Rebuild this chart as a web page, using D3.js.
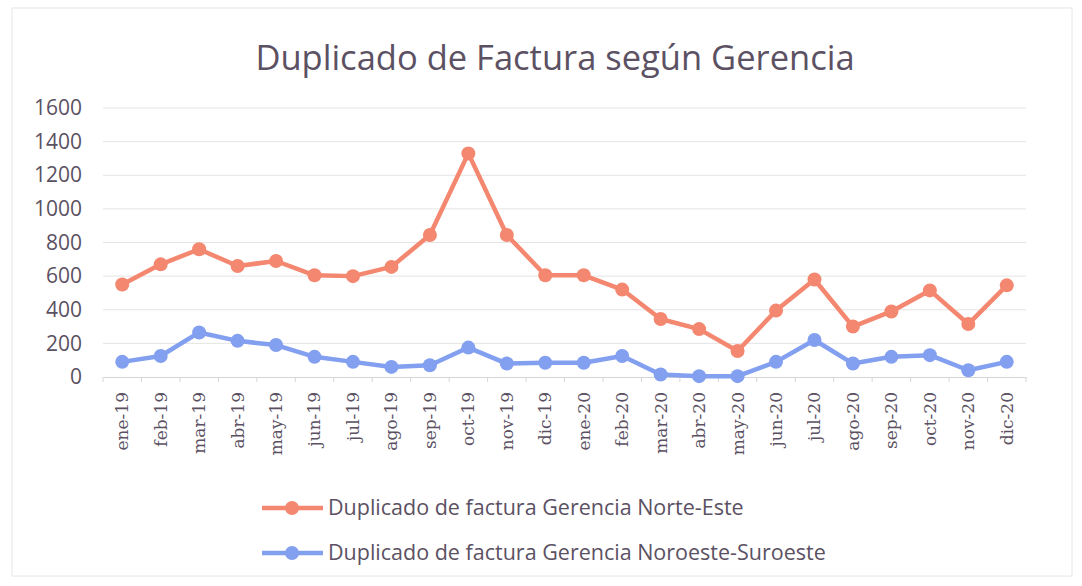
<!DOCTYPE html>
<html>
<head>
<meta charset="utf-8">
<script src="https://cdn.jsdelivr.net/npm/d3@7"></script>
<style>
  body { margin: 0; background: #fff; }
  svg { display: block; }
</style>
</head>
<body>
<svg id="chart"></svg>
<script>
// data
var months = ["ene-19","feb-19","mar-19","abr-19","may-19","jun-19","jul-19","ago-19","sep-19","oct-19","nov-19","dic-19",
              "ene-20","feb-20","mar-20","abr-20","may-20","jun-20","jul-20","ago-20","sep-20","oct-20","nov-20","dic-20"];
var norteEste = [550,670,760,660,690,605,600,655,845,1330,845,605,
                 605,520,345,285,155,395,580,300,390,515,315,545];
var noroesteSuroeste = [90,125,265,215,190,120,90,60,70,175,80,85,
                        85,125,15,5,5,90,220,80,120,130,40,90];
var seriesNames = ["Duplicado de factura Gerencia Norte-Este","Duplicado de factura Gerencia Noroeste-Suroeste"];
var yTicks = [0,200,400,600,800,1000,1200,1400,1600];

var screen = { width: 1082, height: 586 };
var margins = { top: 108, bottom: 209, left: 103, right: 56 };
var width = screen.width - margins.left - margins.right;
var height = screen.height - margins.top - margins.bottom;

var colors = ["#f4876f", "#829ff0"];
var textColor = "#5b5163";

var svg = d3.select('#chart')
  .attr('width', screen.width)
  .attr('height', screen.height);

// faint chart frame
svg.append('rect')
  .attr('x', 12).attr('y', 8)
  .attr('width', 1060).attr('height', 568)
  .attr('fill', 'none')
  .attr('stroke', '#e6e6e6');

svg.append('text')
  .attr('x', 555).attr('y', 70)
  .attr('text-anchor', 'middle')
  .attr('font-family', 'Open Sans, sans-serif')
  .attr('font-size', 34.5)
  .attr('fill', textColor)
  .text("Duplicado de Factura según Gerencia");

var xScale = d3.scaleBand()
  .domain(months)
  .range([0, width]);
var yScale = d3.scaleLinear()
  .domain([0, 1600])
  .range([height, 0]);

var plot = svg.append('g')
  .attr('transform', 'translate(' + margins.left + ',' + margins.top + ')');

// gridlines
plot.append('g')
  .selectAll('line')
  .data(yTicks.slice(1))
  .enter()
  .append('line')
  .attr('x1', 0).attr('x2', width)
  .attr('y1', function(d){ return yScale(d); })
  .attr('y2', function(d){ return yScale(d); })
  .attr('stroke', '#e4e4e4')
  .attr('stroke-width', 1);

// y axis labels
var yAxis = d3.axisLeft(yScale).tickValues(yTicks).tickFormat(d3.format('d')).tickSize(0).tickPadding(21);
var yG = plot.append('g').call(yAxis);
yG.select('.domain').remove();
yG.selectAll('text')
  .attr('font-family', 'Open Sans, sans-serif')
  .attr('font-size', 21)
  .attr('fill', textColor);

// x axis
var xA = plot.append('g')
  .attr('transform', 'translate(0,' + height + ')')
  .call(d3.axisBottom(xScale).tickSize(0));
xA.select('.domain').attr('stroke', '#d6d6d6');
xA.selectAll('.tick text')
  .attr('font-family', 'DejaVu Serif, serif')
  .attr('font-size', 17)
  .attr('fill', textColor)
  .attr('text-anchor', 'end')
  .attr('transform', 'rotate(-90)')
  .attr('x', -15).attr('y', 0)
  .attr('dy', '0.35em');
// tick marks between categories
xA.append('g')
  .selectAll('line')
  .data(months.concat(['end']))
  .enter()
  .append('line')
  .attr('x1', function(d,i){ return i * xScale.step(); })
  .attr('x2', function(d,i){ return i * xScale.step(); })
  .attr('y1', 0).attr('y2', 5)
  .attr('stroke', '#d6d6d6');

var allSeries = [norteEste, noroesteSuroeste];
var line = d3.line()
  .x(function(d,i){ return xScale(months[i]) + xScale.bandwidth()/2; })
  .y(function(d){ return yScale(d); });

allSeries.forEach(function(values, s) {
  plot.append('path')
    .datum(values)
    .attr('d', line)
    .attr('fill', 'none')
    .attr('stroke', colors[s])
    .attr('stroke-width', 4.5)
    .attr('stroke-linejoin', 'round');
  plot.append('g')
    .selectAll('circle')
    .data(values)
    .enter()
    .append('circle')
    .attr('cx', function(d,i){ return xScale(months[i]) + xScale.bandwidth()/2; })
    .attr('cy', function(d){ return yScale(d); })
    .attr('r', 7)
    .attr('fill', colors[s]);
});

// legend
var legend = svg.append('g');
seriesNames.forEach(function(name, s) {
  var ly = 508 + s * 45;
  legend.append('line')
    .attr('x1', 262).attr('x2', 323)
    .attr('y1', ly).attr('y2', ly)
    .attr('stroke', colors[s]).attr('stroke-width', 4.5);
  legend.append('circle')
    .attr('cx', 292).attr('cy', ly).attr('r', 7)
    .attr('fill', colors[s]);
  legend.append('text')
    .attr('x', 328).attr('y', ly + 7)
    .attr('font-family', 'Open Sans, sans-serif')
    .attr('font-size', 21.5)
    .attr('fill', textColor)
    .text(name);
});
</script>
</body>
</html>
